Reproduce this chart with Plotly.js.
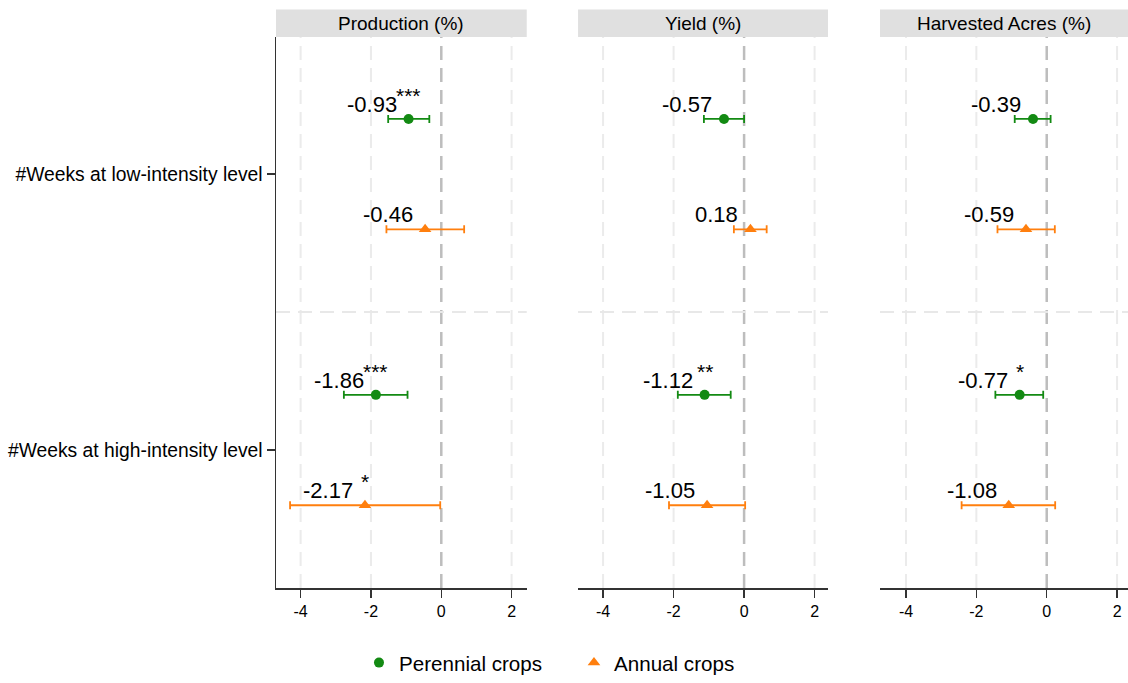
<!DOCTYPE html>
<html>
<head>
<meta charset="utf-8">
<script src="https://cdn.plot.ly/plotly-3.0.1.min.js"></script>
<style>html,body{margin:0;padding:0;background:#fff;}#chart{width:1128px;height:683px;}</style>
</head>
<body>
<div id="chart"></div>
<script>
// ---- data ----
const categories = ["#Weeks at low-intensity level", "#Weeks at high-intensity level"];
const panels = ["Production (%)", "Yield (%)", "Harvested Acres (%)"];
const seriesNames = ["Perennial crops", "Annual crops"];

// Production (%)
const prodPerCoef = [-0.93, -1.86];
const prodPerLo   = [-1.51, -2.77];
const prodPerHi   = [-0.34, -0.96];
const prodPerStar = ["***", "***"];
const prodAnnCoef = [-0.46, -2.17];
const prodAnnLo   = [-1.56, -4.30];
const prodAnnHi   = [0.65, -0.03];
const prodAnnStar = ["", "*"];

// Yield (%)
const yldPerCoef = [-0.57, -1.12];
const yldPerLo   = [-1.14, -1.88];
const yldPerHi   = [0.00, -0.38];
const yldPerStar = ["", "**"];
const yldAnnCoef = [0.18, -1.05];
const yldAnnLo   = [-0.29, -2.13];
const yldAnnHi   = [0.64, 0.03];
const yldAnnStar = ["", ""];

// Harvested Acres (%)
const acrPerCoef = [-0.39, -0.77];
const acrPerLo   = [-0.91, -1.46];
const acrPerHi   = [0.11, -0.10];
const acrPerStar = ["", "*"];
const acrAnnCoef = [-0.59, -1.08];
const acrAnnLo   = [-1.40, -2.42];
const acrAnnHi   = [0.23, 0.24];
const acrAnnStar = ["", ""];

const xTicks = [-4, -2, 0, 2];
const xTickText = ["-4", "-2", "0", "2"];

// ---- build ----
const panelData = [
  {per: [prodPerCoef, prodPerLo, prodPerHi, prodPerStar], ann: [prodAnnCoef, prodAnnLo, prodAnnHi, prodAnnStar]},
  {per: [yldPerCoef, yldPerLo, yldPerHi, yldPerStar], ann: [yldAnnCoef, yldAnnLo, yldAnnHi, yldAnnStar]},
  {per: [acrPerCoef, acrPerLo, acrPerHi, acrPerStar], ann: [acrAnnCoef, acrAnnLo, acrAnnHi, acrAnnStar]}
];
const catPos = [1, 2];
const offset = 0.2;
const GREEN = "#138a13";
const ORANGE = "#ff7f0e";
const FONT = "Liberation Sans, Arial, Helvetica, sans-serif";
const DASH = "14px,8px";

const traces = [];
const annotations = [];
const shapes = [];
const axKeys = ["x", "x2", "x3"];

panelData.forEach((p, i) => {
  const xa = axKeys[i];
  // vertical grid lines (zero line darker)
  xTicks.forEach(t => {
    shapes.push({type: "line", xref: xa, yref: "y domain", x0: t, x1: t, y0: 0, y1: 1,
      line: t === 0 ? {color: "#bdbdbd", width: 2.5, dash: DASH} : {color: "#ebebeb", width: 2, dash: DASH},
      layer: "below"});
  });
  // category divider
  shapes.push({type: "line", xref: xa + " domain", yref: "y", x0: 0, x1: 1, y0: 1.5, y1: 1.5,
    line: {color: "#e8e8e8", width: 2, dash: DASH}, layer: "below"});
  // strip header
  shapes.push({type: "rect", xref: xa + " domain", yref: "paper", x0: 0, x1: 1, y0: 1, y1: 1.0497,
    fillcolor: "#e0e0e0", line: {width: 0}, layer: "above"});
  annotations.push({xref: xa + " domain", yref: "paper", x: 0.5, y: 1.0248, text: panels[i],
    xanchor: "center", yanchor: "middle", showarrow: false, font: {family: FONT, size: 19, color: "#000"}});

  [["per", -offset, GREEN, "circle", 10, 0], ["ann", offset, ORANGE, "triangle-up", 11, 1]].forEach(s => {
    const [key, off, col, sym, sz, si] = s;
    const [coef, lo, hi, star] = p[key];
    const ys = catPos.map(c => c + off);
    traces.push({
      type: "scatter", mode: "markers",
      x: coef, y: ys, xaxis: xa, yaxis: "y",
      name: seriesNames[si], showlegend: i === 0, legendrank: si,
      marker: {color: col, size: sz, symbol: sym},
      error_x: {type: "data", symmetric: false,
        array: coef.map((c, k) => hi[k] - c),
        arrayminus: coef.map((c, k) => c - lo[k]),
        color: col, thickness: 1.8, width: 4},
      hoverinfo: "skip", cliponaxis: false
    });
    coef.forEach((c, k) => {
      annotations.push({xref: xa, yref: "y", x: c, y: ys[k], text: c.toFixed(2),
        xanchor: "right", yanchor: "bottom", xshift: -10, yshift: 0, showarrow: false,
        font: {family: FONT, size: 22, color: "#000"}});
      if (star[k]) {
        annotations.push({xref: xa, yref: "y", x: c, y: ys[k], text: star[k],
          xanchor: "center", yanchor: "bottom", yshift: 10, showarrow: false,
          font: {family: FONT, size: 21, color: "#000"}});
      }
    });
  });
});

const xCommon = {
  tickvals: xTicks, ticktext: xTickText,
  showgrid: false, zeroline: false, showline: true, linecolor: "#333", linewidth: 1.5,
  ticks: "outside", ticklen: 8, tickcolor: "#333", tickwidth: 1.5,
  tickfont: {family: FONT, size: 16, color: "#000"}, anchor: "y", fixedrange: true
};

const layout = {
  width: 1128, height: 683,
  margin: {l: 276, r: 0, t: 37, b: 93, pad: 0},
  paper_bgcolor: "#fff", plot_bgcolor: "#fff",
  font: {family: FONT, color: "#000"},
  xaxis: Object.assign({}, xCommon, {domain: [0, 0.2943], range: [-4.7, 2.43]}),
  xaxis2: Object.assign({}, xCommon, {domain: [0.3545, 0.6479], range: [-4.71, 2.38]}),
  xaxis3: Object.assign({}, xCommon, {domain: [0.7089, 1], range: [-4.74, 2.31]}),
  yaxis: {range: [2.5, 0.503], tickvals: catPos, ticktext: categories,
    showgrid: false, zeroline: false, showline: true, linecolor: "#333", linewidth: 1.5,
    ticks: "outside", ticklen: 8, tickcolor: "#333", tickwidth: 1.5,
    tickfont: {family: FONT, size: 19.3, color: "#000"}, fixedrange: true},
  showlegend: true,
  legend: {orientation: "h", x: 0.0974, xanchor: "left", y: -0.1356, yanchor: "middle",
    font: {family: FONT, size: 20.6, color: "#000"}, entrywidth: 170, bgcolor: "rgba(0,0,0,0)"},
  shapes: shapes, annotations: annotations, hovermode: false
};

Plotly.newPlot("chart", traces, layout, {staticPlot: true, displayModeBar: false});
</script>
</body>
</html>
